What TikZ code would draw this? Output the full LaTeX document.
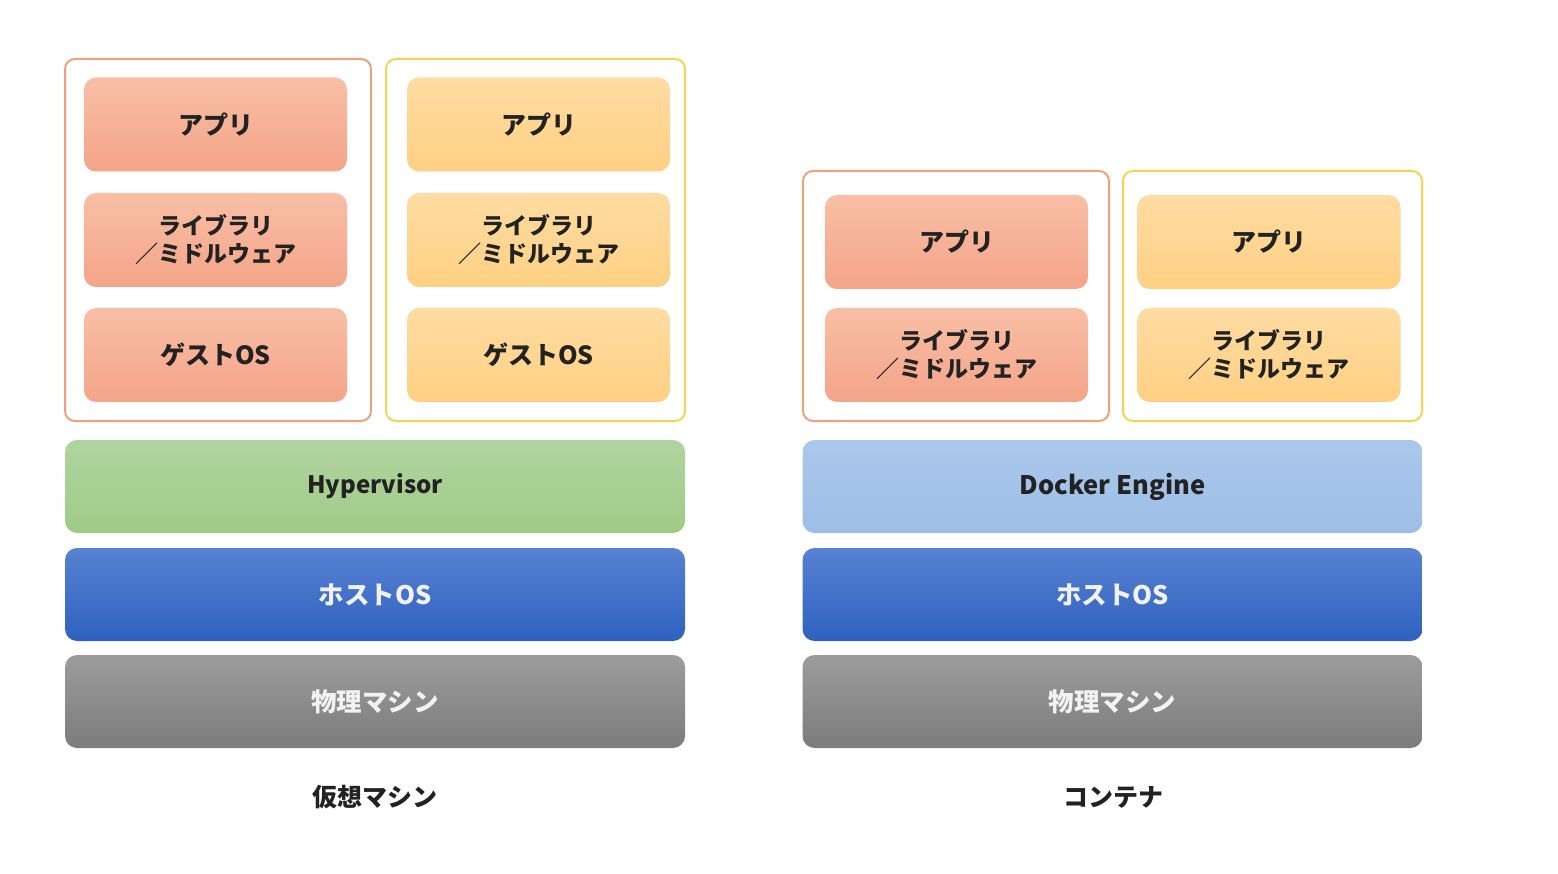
\documentclass[tikz,border=0pt]{standalone}
\usepackage{fontspec}
\setmainfont{Noto Sans CJK JP}
\begin{document}
\begin{tikzpicture}[x=1pt,y=-1pt,
  contbox/.style={draw, line width=2pt, rounded corners=10pt, fill=white, inner sep=0pt},
  contO/.style={contbox, draw=cOb},
  contY/.style={contbox, draw=cYb},
  blk/.style={rounded corners=12pt, inner sep=0pt, align=center, font=\bfseries\fontsize{25}{28}\selectfont},
  two/.style={font=\bfseries\fontsize{23}{28}\selectfont},
  inbox/.style={blk, minimum width=263pt, minimum height=94pt},
  layerbox/.style={blk, minimum width=620pt, minimum height=93pt, font=\bfseries\fontsize{25.5}{28}\selectfont},
  boxO/.style={inbox, top color=cO1, bottom color=cO2, text=txtd},
  boxY/.style={inbox, top color=cY1, bottom color=cY2, text=txtd},
  hypbox/.style={layerbox, top color=cG1, bottom color=cG2, text=txtd, font=\bfseries\fontsize{24}{28}\selectfont},
  dockbox/.style={layerbox, top color=cL1, bottom color=cL2, text=txtd},
  hostbox/.style={layerbox, top color=cB1, bottom color=cB2, text=txtw},
  physbox/.style={layerbox, top color=cP1, bottom color=cP2, text=txtw},
  captxt/.style={font=\bfseries\fontsize{25}{28}\selectfont, text=txtd}
]
\definecolor{cOb}{HTML}{EFA27A}
\definecolor{cYb}{HTML}{F6D256}
\definecolor{cO1}{HTML}{F8BFA6}
\definecolor{cO2}{HTML}{F4A488}
\definecolor{cY1}{HTML}{FFDCA2}
\definecolor{cY2}{HTML}{FFD083}
\definecolor{cG1}{HTML}{B0D4A0}
\definecolor{cG2}{HTML}{9FCB86}
\definecolor{cL1}{HTML}{ABC8EB}
\definecolor{cL2}{HTML}{9CBEE6}
\definecolor{cB1}{HTML}{5882D2}
\definecolor{cB2}{HTML}{2E61C0}
\definecolor{cP1}{HTML}{9C9C9C}
\definecolor{cP2}{HTML}{7C7C7C}
\definecolor{txtd}{HTML}{222222}
\definecolor{txtw}{HTML}{F2F2F2}
\useasboundingbox[fill=white] (0,0) rectangle (1558,874);

% ---- Virtual machine side ----
\node[contO, minimum width=306pt, minimum height=362pt] (vmc1) at (218,240) {};
\node[contY, minimum width=299pt, minimum height=362pt] (vmc2) at (535.5,240) {};
\node[boxO] (vm1app) at (215.5,124.5) {アプリ};
\node[boxO, two] (vm1lib) at (215.5,240) {ライブラリ\\／ミドルウェア};
\node[boxO] (vm1os)  at (215.5,355) {ゲストOS};
\node[boxY] (vm2app) at (538.5,124.5) {アプリ};
\node[boxY, two] (vm2lib) at (538.5,240) {ライブラリ\\／ミドルウェア};
\node[boxY] (vm2os)  at (538.5,355) {ゲストOS};
\node[hypbox] (hyp) at (375,486.5) {Hypervisor};
\node[hostbox] (vmhost) at (375,594.5) {ホストOS};
\node[physbox] (vmphys) at (375,701.5) {物理マシン};
\node[captxt] (vmcap) at (375,797) {仮想マシン};

% ---- Container side ----
\node[contO, minimum width=306pt, minimum height=250pt] (ctc1) at (956,296) {};
\node[contY, minimum width=299pt, minimum height=250pt] (ctc2) at (1272.5,296) {};
\node[boxO] (ct1app) at (956.5,242) {アプリ};
\node[boxO, two] (ct1lib) at (956.5,355) {ライブラリ\\／ミドルウェア};
\node[boxY] (ct2app) at (1269,242) {アプリ};
\node[boxY, two] (ct2lib) at (1269,355) {ライブラリ\\／ミドルウェア};
\node[dockbox] (dock) at (1112.5,486.5) {Docker Engine};
\node[hostbox] (cthost) at (1112.5,594.5) {ホストOS};
\node[physbox] (ctphys) at (1112.5,701.5) {物理マシン};
\node[captxt] (ctcap) at (1113,797) {コンテナ};
\end{tikzpicture}
\end{document}
